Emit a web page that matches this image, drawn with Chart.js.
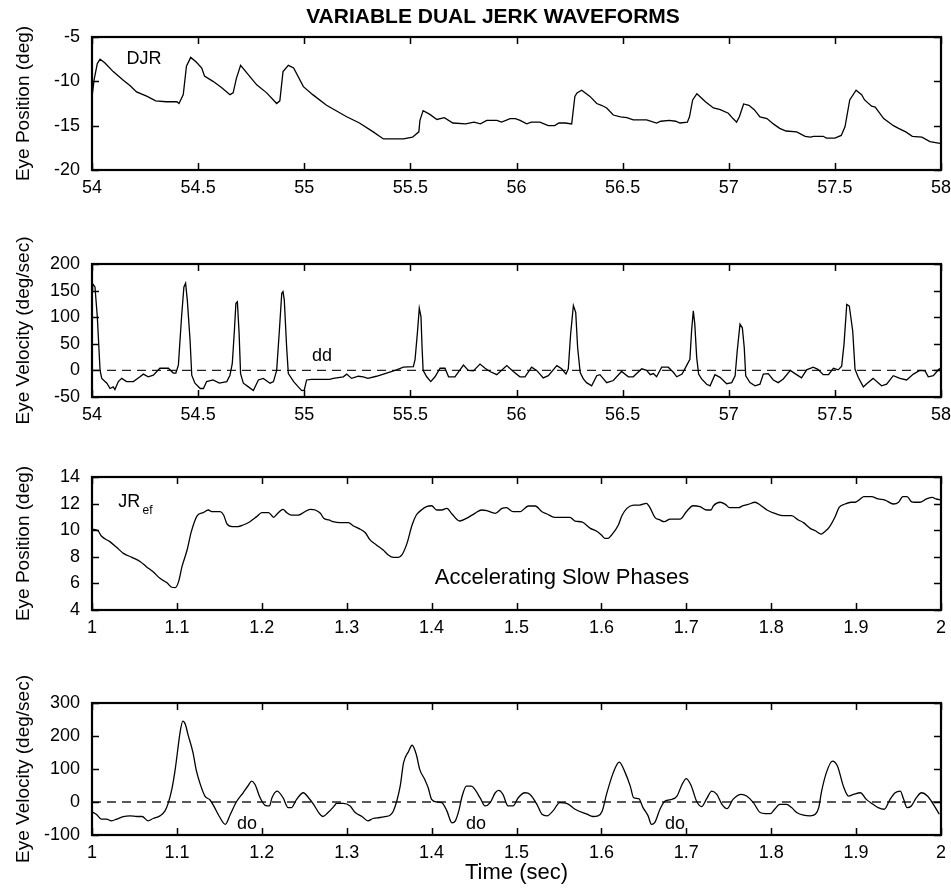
<!DOCTYPE html>
<html>
<head>
<meta charset="utf-8">
<title>Variable Dual Jerk Waveforms</title>
<script src="https://cdn.jsdelivr.net/npm/chart.js@4.4.1/dist/chart.umd.min.js"></script>
<style>
  body { margin: 0; background: #fff; }
  #page { position: relative; width: 951px; height: 888px; }
  canvas { position: absolute; left: 0; }
</style>
</head>
<body>
<div id="page">
  <canvas id="djrPos" width="951" height="200" style="top:0px"></canvas>
  <canvas id="djrVel" width="951" height="226" style="top:200px"></canvas>
  <canvas id="jrPos" width="951" height="214" style="top:426px"></canvas>
  <canvas id="jrVel" width="951" height="248" style="top:640px"></canvas>
</div>
<script>
// --- DJR eye position (deg), time in sec
const djrPosT = [54.0, 54.01, 54.025, 54.038, 54.06, 54.1, 54.146, 54.18, 54.21, 54.26, 54.3, 54.35, 54.4, 54.41, 54.43, 54.445, 54.465, 54.49, 54.517, 54.53, 54.57, 54.61, 54.65, 54.665, 54.68, 54.70, 54.745, 54.776, 54.823, 54.87, 54.885, 54.9, 54.925, 54.95, 54.996, 55.04, 55.105, 55.2, 55.26, 55.325, 55.373, 55.467, 55.51, 55.54, 55.545, 55.56, 55.59, 55.625, 55.66, 55.70, 55.76, 55.8, 55.83, 55.86, 55.907, 55.93, 55.97, 55.995, 56.017, 56.048, 56.07, 56.11, 56.15, 56.18, 56.2, 56.23, 56.26, 56.275, 56.285, 56.307, 56.346, 56.378, 56.4, 56.425, 56.456, 56.49, 56.52, 56.55, 56.613, 56.66, 56.68, 56.72, 56.75, 56.77, 56.805, 56.815, 56.83, 56.85, 56.89, 56.928, 56.96, 56.998, 57.02, 57.037, 57.05, 57.07, 57.095, 57.12, 57.147, 57.18, 57.21, 57.24, 57.27, 57.32, 57.36, 57.385, 57.4, 57.445, 57.46, 57.5, 57.53, 57.548, 57.57, 57.6, 57.626, 57.64, 57.673, 57.69, 57.73, 57.776, 57.8, 57.834, 57.865, 57.91, 57.948, 57.995];
const djrPos = [-11.8, -9.8, -8.0, -7.5, -7.9, -8.9, -9.85, -10.5, -11.2, -11.7, -12.2, -12.3, -12.3, -12.5, -11.5, -8.3, -7.3, -7.8, -8.5, -9.4, -10.0, -10.7, -11.5, -11.3, -9.7, -8.2, -9.5, -10.4, -11.3, -12.5, -12.2, -8.9, -8.2, -8.5, -10.6, -11.5, -12.7, -14.0, -14.7, -15.7, -16.5, -16.5, -16.3, -15.7, -14.4, -13.3, -13.7, -14.3, -14.1, -14.7, -14.8, -14.6, -14.8, -14.4, -14.4, -14.6, -14.2, -14.2, -14.4, -14.8, -14.6, -14.6, -15.0, -15.0, -14.7, -14.7, -14.8, -11.7, -11.3, -11.0, -11.7, -12.5, -12.7, -13.0, -13.8, -14.0, -14.1, -14.35, -14.35, -14.7, -14.5, -14.4, -14.5, -14.7, -14.6, -14.0, -12.1, -11.4, -12.3, -13.0, -13.2, -13.6, -14.2, -14.6, -14.0, -12.55, -12.7, -13.2, -14.0, -14.2, -14.8, -15.3, -15.6, -15.7, -16.2, -16.3, -16.2, -16.2, -16.4, -16.4, -16.1, -15.1, -12.1, -11.0, -11.5, -12.1, -12.8, -12.9, -14.2, -15.0, -15.3, -15.7, -16.2, -16.3, -16.8, -17.0];

// --- DJR eye velocity (deg/sec)
const djrVelT = [54.0, 54.003, 54.014, 54.025, 54.038, 54.046, 54.07, 54.085, 54.1, 54.108, 54.124, 54.14, 54.163, 54.195, 54.226, 54.242, 54.265, 54.289, 54.32, 54.36, 54.383, 54.395, 54.407, 54.422, 54.433, 54.441, 54.449, 54.462, 54.47, 54.485, 54.51, 54.525, 54.54, 54.57, 54.6, 54.635, 54.65, 54.661, 54.671, 54.678, 54.685, 54.693, 54.7, 54.713, 54.737, 54.76, 54.784, 54.807, 54.839, 54.855, 54.87, 54.883, 54.894, 54.9, 54.906, 54.917, 54.925, 54.95, 54.972, 54.988, 55.0, 55.011, 55.035, 55.12, 55.137, 55.184, 55.2, 55.223, 55.255, 55.278, 55.3, 55.34, 55.388, 55.435, 55.467, 55.514, 55.522, 55.533, 55.542, 55.55, 55.555, 55.56, 55.577, 55.596, 55.616, 55.64, 55.663, 55.68, 55.71, 55.75, 55.773, 55.797, 55.828, 55.852, 55.875, 55.907, 55.954, 55.985, 56.016, 56.04, 56.071, 56.095, 56.126, 56.15, 56.19, 56.213, 56.233, 56.244, 56.255, 56.268, 56.279, 56.288, 56.3, 56.315, 56.33, 56.354, 56.378, 56.393, 56.425, 56.456, 56.495, 56.527, 56.55, 56.59, 56.613, 56.63, 56.645, 56.66, 56.684, 56.715, 56.74, 56.755, 56.78, 56.8, 56.817, 56.825, 56.833, 56.84, 56.849, 56.858, 56.872, 56.896, 56.912, 56.935, 56.959, 56.99, 57.014, 57.03, 57.04, 57.053, 57.064, 57.073, 57.08, 57.1, 57.124, 57.147, 57.163, 57.186, 57.21, 57.233, 57.257, 57.29, 57.312, 57.343, 57.367, 57.398, 57.42, 57.445, 57.47, 57.493, 57.516, 57.532, 57.543, 57.556, 57.568, 57.584, 57.595, 57.61, 57.634, 57.65, 57.68, 57.72, 57.744, 57.775, 57.807, 57.838, 57.87, 57.9, 57.925, 57.94, 57.964, 57.992, 58.0];
const djrVel = [150, 163, 157, 101, 0, -15, -24, -34, -31, -36, -21, -15, -21, -21, -12, -7, -12, -9, 4, 4, -5, -5, 10, 101, 157, 164, 132, 57, -9, -24, -34, -34, -21, -18, -24, -21, -9, 13, 76, 126, 129, 70, -6, -24, -31, -38, -18, -15, -24, -21, 0, 76, 145, 148, 132, 44, -6, -21, -31, -38, -37, -18, -17, -17, -15, -12, -7, -15, -11, -12, -15, -11, -5, 1, 6, 7, 20, 70, 117, 101, 44, 0, -12, -21, -12, 4, 4, -12, -12, 10, 0, -1, 12, 4, -2, -8, 9, -2, -12, -12, 6, 0, -14, -10, 9, 3, -7, 3, 68, 122, 109, 43, -4, -16, -23, -29, -10, -8, -23, -19, -2, -12, -12, 3, 0, -8, -6, -12, 6, 6, -4, -12, -7, 8, 21, 75, 112, 87, 24, -7, -16, -26, -29, -8, -13, -25, -23, -10, 37, 87, 80, 43, -10, -23, -29, -26, -7, -6, -18, -23, -16, 0, -6, -14, 1, 6, 2, -8, -8, 4, 1, 8, 49, 124, 121, 74, 2, -13, -31, -25, -15, -29, -26, -10, -15, -18, -7, 0, -1, -12, -10, 3, 2];

// --- JR eye position (deg)
const jrPosT = [1.0, 1.007, 1.011, 1.021, 1.029, 1.037, 1.047, 1.057, 1.064, 1.072, 1.08, 1.088, 1.094, 1.098, 1.102, 1.106, 1.112, 1.117, 1.124, 1.131, 1.137, 1.141, 1.151, 1.155, 1.159, 1.165, 1.172, 1.178, 1.186, 1.194, 1.2, 1.208, 1.214, 1.218, 1.225, 1.229, 1.235, 1.243, 1.249, 1.257, 1.263, 1.269, 1.273, 1.279, 1.284, 1.292, 1.302, 1.308, 1.314, 1.322, 1.327, 1.335, 1.343, 1.349, 1.355, 1.361, 1.365, 1.371, 1.377, 1.382, 1.388, 1.394, 1.4, 1.406, 1.412, 1.418, 1.424, 1.433, 1.441, 1.451, 1.459, 1.465, 1.475, 1.483, 1.488, 1.496, 1.504, 1.514, 1.522, 1.53, 1.536, 1.545, 1.563, 1.569, 1.577, 1.587, 1.594, 1.6, 1.604, 1.608, 1.612, 1.62, 1.624, 1.63, 1.638, 1.645, 1.653, 1.657, 1.663, 1.669, 1.674, 1.681, 1.693, 1.7, 1.708, 1.716, 1.724, 1.729, 1.732, 1.74, 1.746, 1.751, 1.761, 1.767, 1.773, 1.781, 1.787, 1.795, 1.806, 1.814, 1.824, 1.832, 1.838, 1.846, 1.852, 1.859, 1.863, 1.868, 1.875, 1.88, 1.887, 1.894, 1.899, 1.905, 1.909, 1.918, 1.926, 1.934, 1.944, 1.95, 1.955, 1.96, 1.965, 1.969, 1.975, 1.983, 1.99, 1.994, 2.0];
const jrPos = [10.07, 9.96, 9.56, 9.14, 8.71, 8.26, 7.96, 7.63, 7.26, 6.88, 6.38, 6.06, 5.71, 5.68, 6.13, 7.26, 8.51, 9.89, 11.09, 11.32, 11.52, 11.39, 11.39, 11.14, 10.47, 10.27, 10.27, 10.39, 10.64, 11.02, 11.32, 11.32, 10.97, 11.22, 11.57, 11.34, 11.14, 11.14, 11.32, 11.57, 11.52, 11.27, 10.89, 10.77, 10.64, 10.57, 10.57, 10.32, 10.14, 9.81, 9.31, 8.89, 8.51, 8.14, 7.96, 7.96, 8.14, 9.01, 10.39, 11.14, 11.52, 11.77, 11.84, 11.52, 11.52, 11.64, 11.22, 10.69, 10.89, 11.27, 11.52, 11.47, 11.27, 11.64, 11.69, 11.39, 11.39, 11.82, 11.82, 11.39, 11.22, 10.97, 10.97, 10.69, 10.62, 10.14, 9.94, 9.64, 9.39, 9.39, 9.64, 10.39, 11.07, 11.64, 11.89, 11.89, 12.02, 11.72, 10.97, 10.77, 10.64, 10.84, 10.84, 11.39, 11.84, 11.77, 11.52, 11.52, 11.84, 12.1, 11.94, 11.69, 11.69, 11.84, 11.94, 12.1, 11.89, 11.52, 11.22, 11.09, 11.09, 10.77, 10.57, 10.14, 9.96, 9.71, 9.89, 10.19, 10.97, 11.72, 11.97, 12.1, 12.1, 12.35, 12.52, 12.52, 12.35, 12.27, 11.97, 12.1, 12.52, 12.52, 12.15, 12.1, 12.1, 12.35, 12.47, 12.35, 12.27];

// --- JR eye velocity (deg/sec)
const jrVelT = [1.0, 1.005, 1.011, 1.017, 1.023, 1.029, 1.037, 1.045, 1.053, 1.059, 1.066, 1.072, 1.08, 1.086, 1.09, 1.094, 1.098, 1.104, 1.107, 1.11, 1.113, 1.119, 1.123, 1.127, 1.133, 1.139, 1.143, 1.15, 1.157, 1.163, 1.17, 1.178, 1.184, 1.188, 1.192, 1.198, 1.204, 1.209, 1.212, 1.218, 1.225, 1.231, 1.235, 1.241, 1.249, 1.255, 1.261, 1.267, 1.272, 1.278, 1.286, 1.288, 1.296, 1.304, 1.31, 1.318, 1.325, 1.331, 1.339, 1.345, 1.351, 1.355, 1.359, 1.363, 1.367, 1.373, 1.377, 1.382, 1.386, 1.392, 1.396, 1.4, 1.406, 1.412, 1.418, 1.424, 1.428, 1.432, 1.436, 1.441, 1.447, 1.451, 1.457, 1.463, 1.469, 1.475, 1.479, 1.484, 1.49, 1.496, 1.502, 1.51, 1.516, 1.524, 1.53, 1.536, 1.543, 1.551, 1.559, 1.569, 1.583, 1.59, 1.596, 1.601, 1.606, 1.614, 1.621, 1.628, 1.634, 1.638, 1.644, 1.649, 1.655, 1.659, 1.663, 1.669, 1.675, 1.683, 1.689, 1.695, 1.7, 1.706, 1.712, 1.718, 1.724, 1.73, 1.736, 1.742, 1.748, 1.755, 1.765, 1.771, 1.779, 1.787, 1.793, 1.799, 1.804, 1.81, 1.818, 1.824, 1.83, 1.838, 1.846, 1.852, 1.856, 1.859, 1.865, 1.872, 1.878, 1.885, 1.891, 1.897, 1.905, 1.912, 1.92, 1.926, 1.933, 1.94, 1.946, 1.952, 1.956, 1.96, 1.965, 1.971, 1.977, 1.984, 1.991, 1.998];
const jrVel = [-30, -37, -52, -52, -57, -52, -44, -42, -44, -44, -57, -50, -42, -27, -2, 38, 99, 215, 245, 235, 205, 149, 94, 58, 18, 6, -10, -44, -68, -37, 0, 28, 50, 63, 53, 13, -10, -12, 13, 33, 13, -17, -17, 8, 28, 13, -7, -32, -44, -32, -10, -4, -4, -12, -32, -44, -57, -50, -47, -44, -40, -27, 3, 48, 119, 154, 172, 144, 99, 68, 43, 8, 0, -2, -27, -63, -57, -27, 18, 48, 48, 38, 13, -12, -2, 28, 35, 23, -12, -12, 13, 28, 23, -7, -37, -42, -27, -2, -4, -22, -37, -44, -42, -27, 23, 89, 121, 89, 48, 13, 10, -17, -42, -68, -62, -22, 3, 8, 18, 53, 71, 48, 3, -14, 10, 33, 23, -7, -20, 8, 23, 18, -2, -32, -35, -35, -22, -7, -7, -17, -32, -40, -42, -37, -17, 28, 89, 124, 109, 48, 18, 23, 28, 8, -7, -17, -22, 8, 28, 33, 8, -17, -12, 13, 28, 18, -7, -37];

// dashed zero reference lines
const zeroDjrT = [54, 58];
const zeroJrT = [1, 2];
const zeroV = [0, 0];

const FONT = '"Liberation Sans", Arial, Helvetica, sans-serif';

const toPoints = (ts, vs) => ts.map((t, i) => ({ x: t, y: vs[i] }));
const fmt = (v) => String(Math.round(v * 100) / 100);

// frame with inward tick marks on all four sides
const frame = {
  id: 'frame',
  afterDatasetsDraw(chart) {
    const { ctx, chartArea: a, scales: { x, y } } = chart;
    ctx.save();
    ctx.strokeStyle = '#000';
    ctx.lineWidth = 1.5;
    ctx.beginPath();
    x.ticks.forEach(t => {
      const px = Math.round(x.getPixelForValue(t.value)) + 0.5;
      ctx.moveTo(px, a.bottom); ctx.lineTo(px, a.bottom - 7);
      ctx.moveTo(px, a.top); ctx.lineTo(px, a.top + 7);
    });
    y.ticks.forEach(t => {
      const py = Math.round(y.getPixelForValue(t.value)) + 0.5;
      ctx.moveTo(a.left, py); ctx.lineTo(a.left + 7, py);
      ctx.moveTo(a.right, py); ctx.lineTo(a.right - 7, py);
    });
    ctx.stroke();
    ctx.lineWidth = 2.2;
    ctx.strokeRect(a.left, a.top, a.width, a.height);
    ctx.restore();
  }
};

// text notes placed in data coordinates (or pixels when px:true)
const notes = {
  id: 'notes',
  afterDraw(chart, args, opts) {
    const { ctx, scales: { x, y } } = chart;
    (opts.items || []).forEach(n => {
      const px = n.px ? n.x : x.getPixelForValue(n.x);
      const py = n.px ? n.y : y.getPixelForValue(n.y);
      ctx.save();
      ctx.fillStyle = '#000';
      ctx.font = (n.bold ? 'bold ' : '') + n.size + 'px ' + FONT;
      ctx.textAlign = n.align || 'center';
      ctx.textBaseline = 'middle';
      ctx.fillText(n.text, px, py);
      ctx.restore();
    });
  }
};

function makePanel(id, cfg) {
  return new Chart(document.getElementById(id), {
    type: 'line',
    data: {
      datasets: [
        {
          data: cfg.points,
          borderColor: '#000',
          borderWidth: 1.3,
          pointRadius: 0,
          tension: 0,
          cubicInterpolationMode: cfg.smooth ? 'monotone' : 'default'
        },
        ...(cfg.zero ? [{
          data: cfg.zero,
          borderColor: '#222',
          borderWidth: 1.3,
          borderDash: [9, 6],
          pointRadius: 0
        }] : [])
      ]
    },
    options: {
      responsive: false,
      animation: false,
      devicePixelRatio: 1,
      layout: { padding: { top: cfg.padTop, right: 10, left: 0, bottom: 0 } },
      plugins: {
        legend: { display: false },
        tooltip: { enabled: false },
        notes: { items: cfg.notes }
      },
      scales: {
        x: {
          type: 'linear',
          min: cfg.xMin, max: cfg.xMax,
          grid: { display: false, drawTicks: false },
          border: { display: false },
          ticks: {
            stepSize: cfg.xStep, autoSkip: false, maxRotation: 0, padding: 7,
            color: '#000', font: { family: FONT, size: 18 }, callback: fmt
          },
          title: cfg.xTitle ? {
            display: true, text: cfg.xTitle, color: '#000',
            font: { family: FONT, size: 22 }, padding: { top: 0, bottom: 2 }
          } : { display: false },
          afterFit(s) { s.height = cfg.xHeight; s.paddingLeft = 0; s.paddingRight = 0; }
        },
        y: {
          min: cfg.yMin, max: cfg.yMax,
          grid: { display: false, drawTicks: false },
          border: { display: false },
          ticks: {
            stepSize: cfg.yStep, padding: 12,
            color: '#000', font: { family: FONT, size: 18 }, callback: fmt
          },
          title: {
            display: true, text: cfg.yTitle, color: '#000',
            font: { family: FONT, size: 19 }, padding: { top: 12, bottom: 0 }
          },
          afterFit(s) { s.width = 92; s.paddingTop = 0; s.paddingBottom = 0; }
        }
      }
    },
    plugins: [frame, notes]
  });
}

makePanel('djrPos', {
  points: toPoints(djrPosT, djrPos),
  xMin: 54, xMax: 58, xStep: 0.5, yMin: -20, yMax: -5, yStep: 5,
  yTitle: 'Eye Position (deg)', padTop: 37, xHeight: 30,
  notes: [
    { text: 'VARIABLE DUAL JERK WAVEFORMS', x: 493, y: 17, px: true, size: 21, bold: true },
    { text: 'DJR', x: 54.245, y: -7.5, size: 18 }
  ]
});

makePanel('djrVel', {
  points: toPoints(djrVelT, djrVel),
  zero: toPoints(zeroDjrT, zeroV),
  xMin: 54, xMax: 58, xStep: 0.5, yMin: -50, yMax: 200, yStep: 50,
  yTitle: 'Eye Velocity (deg/sec)', padTop: 64, xHeight: 29,
  notes: [{ text: 'dd', x: 55.084, y: 27, size: 18 }]
});

makePanel('jrPos', {
  points: toPoints(jrPosT, jrPos), smooth: true,
  xMin: 1, xMax: 2, xStep: 0.1, yMin: 4, yMax: 14, yStep: 2,
  yTitle: 'Eye Position (deg)', padTop: 51, xHeight: 30,
  notes: [
    { text: 'JR', x: 1.031, y: 12.1, size: 18, align: 'left' },
    { text: 'ef', x: 1.0595, y: 11.45, size: 12, align: 'left' },
    { text: 'Accelerating Slow Phases', x: 1.5536, y: 6.4, size: 22 }
  ]
});

makePanel('jrVel', {
  points: toPoints(jrVelT, jrVel), smooth: true,
  zero: toPoints(zeroJrT, zeroV),
  xMin: 1, xMax: 2, xStep: 0.1, yMin: -100, yMax: 300, yStep: 100,
  yTitle: 'Eye Velocity (deg/sec)', xTitle: 'Time (sec)', padTop: 63, xHeight: 53,
  notes: [
    { text: 'do', x: 1.1826, y: -67, size: 18 },
    { text: 'do', x: 1.4523, y: -67, size: 18 },
    { text: 'do', x: 1.6867, y: -67, size: 18 }
  ]
});
</script>
</body>
</html>
